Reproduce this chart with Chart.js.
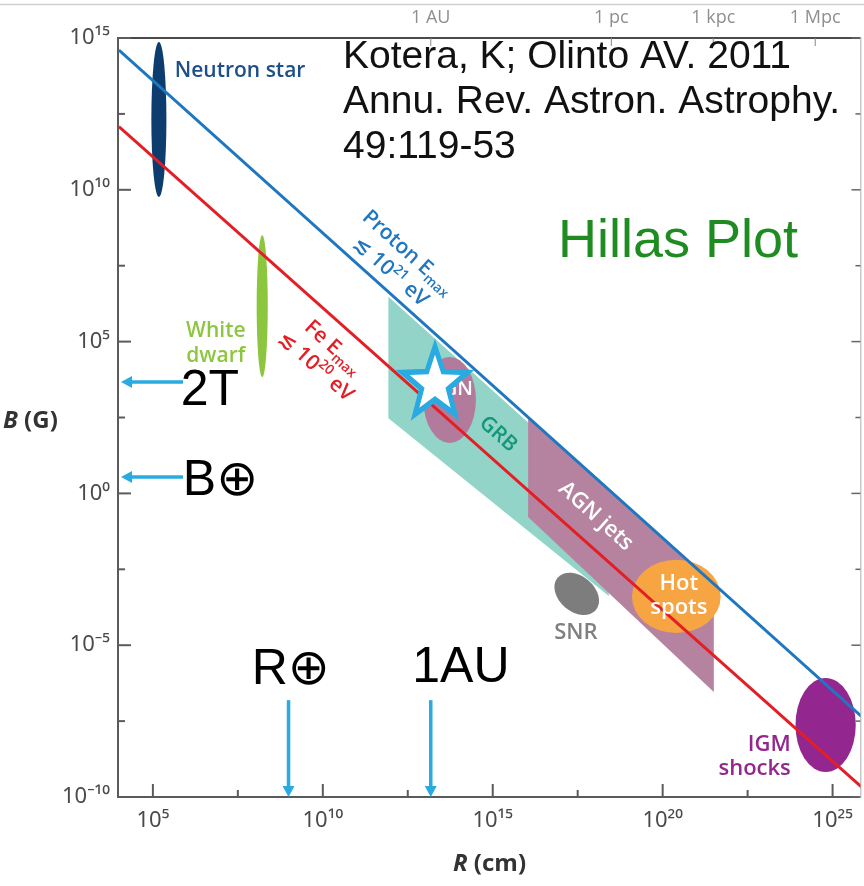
<!DOCTYPE html>
<html>
<head>
<meta charset="utf-8">
<script src="https://cdn.jsdelivr.net/npm/chart.js@4.4.1/dist/chart.umd.min.js"></script>
<style>
  html, body { margin: 0; padding: 0; background: #fff; overflow: hidden; }
  canvas { display: block; }
</style>
</head>
<body>
<canvas id="hillas" width="864" height="886"></canvas>
<script>
// axis ranges: R in cm, B in gauss
const xRange = [9.4e3, 6.6e25];
const yRange = [1e-10, 1e15];
const xTickValues = [1e5, 1e10, 1e15, 1e20, 1e25];
const xTickLabels = ['10⁵', '10¹⁰', '10¹⁵', '10²⁰', '10²⁵'];
const xMinorValues = [3.16e7, 3.16e12, 3.16e17, 3.16e22];
const yTickValues = [1e-10, 1e-5, 1, 1e5, 1e10, 1e15];
const yTickLabels = ['10⁻¹⁰', '10⁻⁵', '10⁰', '10⁵', '10¹⁰', '10¹⁵'];
const yMinorValues = [3.16e-8, 3.16e-3, 316, 3.16e7, 3.16e12];
const distanceValues = [1.5e13, 3.09e18, 3.09e21, 3.09e24];
const distanceLabels = ['1 AU', '1 pc', '1 kpc', '1 Mpc'];

// confinement limits B*R = const
const protonR = [1e4, 7.1e25];
const protonB = [4.0e14, 4.5e-8];
const ironR = [1e4, 7.6e25];
const ironB = [1.2e12, 2.0e-10];

// source classes as (R, B) boxes
const sourceNames = ['Neutron star', 'White dwarf', 'AGN', 'SNR', 'Hot spots', 'IGM shocks'];
const sourceRMin = [9.0e4, 1.13e8, 9.1e12, 6.5e16, 1.25e19, 8.1e23];
const sourceRMax = [2.5e5, 2.4e8, 3.2e14, 1.35e18, 5.1e21, 4.8e25];
const sourceBMin = [5.8e9, 6.8e3, 46, 1.0e-4, 2.5e-5, 6.6e-10];
const sourceBMax = [7.4e14, 3.2e8, 3.1e4, 2.4e-3, 6.5e-3, 8.3e-7];

// GRB and AGN jet bands (polygon corners)
const grbR = [8.5e11, 2.6e18, 2.6e18, 8.5e11];
const grbB = [3.0e6, 0.89, 4.2e-4, 300];
const jetR = [1.1e16, 3.2e21, 3.2e21, 1.1e16];
const jetB = [350, 1.0e-3, 2.9e-7, 0.166];

// reference marks
const starR = [2.0e13];
const starB = [4.0e3];
const fieldMarkLabels = ['2T', 'B⊕'];
const fieldMarkB = [4.7e3, 3.5];
const sizeMarkLabels = ['R⊕', '1AU'];
const sizeMarkR = [9.8e8, 1.5e13];

const sourceColors = {
  'Neutron star': '#0d3d6e',
  'White dwarf': '#8cc63f',
  'AGN': '#b27b9c',
  'SNR': '#7d7d7d',
  'Hot spots': '#f7a543',
  'IGM shocks': '#93278f'
};
const arrowColor = '#29abe2';

function X(chart, r) { return chart.scales.x.getPixelForValue(r); }
function Y(chart, b) { return chart.scales.y.getPixelForValue(b); }

// multi-line text with sub/superscript runs; mode 1 = sup, -1 = sub
function richText(ctx, lines, x, y, o) {
  const size = o.size, lh = o.lineHeight || size * 1.2;
  const fam = o.family || '"Open Sans", "DejaVu Sans", sans-serif';
  const font = (s) => `${o.style || ''} ${o.weight || 600} ${s}px ${fam}`;
  ctx.save();
  ctx.translate(x, y);
  ctx.rotate(o.angle || 0);
  ctx.fillStyle = o.color;
  ctx.textBaseline = 'alphabetic';
  ctx.textAlign = 'left';
  const total = lines.length * lh;
  lines.forEach((parts, li) => {
    let w = 0;
    parts.forEach(([t, m]) => { ctx.font = font(m ? size * 0.65 : size); w += ctx.measureText(t).width; });
    let cx = o.align === 'right' ? -w : o.align === 'left' ? 0 : -w / 2;
    const base = -total / 2 + (li + 0.5) * lh + size * 0.36;
    parts.forEach(([t, m]) => {
      const s = m ? size * 0.65 : size;
      ctx.font = font(s);
      const dy = m === 1 ? -size * 0.4 : m === -1 ? size * 0.22 : 0;
      ctx.fillText(t, cx, base + dy);
      cx += ctx.measureText(t).width;
    });
  });
  ctx.restore();
}

function polygon(chart, rs, bs, color) {
  const ctx = chart.ctx;
  ctx.save();
  ctx.fillStyle = color;
  ctx.beginPath();
  rs.forEach((r, i) => {
    const px = X(chart, r), py = Y(chart, bs[i]);
    if (i === 0) ctx.moveTo(px, py); else ctx.lineTo(px, py);
  });
  ctx.closePath();
  ctx.fill();
  ctx.restore();
}

function arrow(ctx, x0, y0, x1, y1) {
  const a = Math.atan2(y1 - y0, x1 - x0);
  const head = 11, half = 6;
  ctx.save();
  ctx.strokeStyle = arrowColor;
  ctx.fillStyle = arrowColor;
  ctx.lineWidth = 3.5;
  ctx.beginPath();
  ctx.moveTo(x0, y0);
  ctx.lineTo(x1 - Math.cos(a) * head, y1 - Math.sin(a) * head);
  ctx.stroke();
  ctx.beginPath();
  ctx.moveTo(x1, y1);
  ctx.lineTo(x1 - Math.cos(a) * head - Math.sin(a) * half, y1 - Math.sin(a) * head + Math.cos(a) * half);
  ctx.lineTo(x1 - Math.cos(a) * head + Math.sin(a) * half, y1 - Math.sin(a) * head - Math.cos(a) * half);
  ctx.closePath();
  ctx.fill();
  ctx.restore();
}

const hillasRegions = {
  id: 'hillasRegions',
  beforeDatasetsDraw(chart) {
    const ctx = chart.ctx, area = chart.chartArea;
    ctx.save();
    ctx.beginPath();
    ctx.rect(area.left, area.top, area.right - area.left, area.bottom - area.top);
    ctx.clip();
    polygon(chart, grbR, grbB, '#93d4c9');
    polygon(chart, jetR, jetB, '#b5839f');
    sourceNames.forEach((name, i) => {
      const x0 = X(chart, sourceRMin[i]), x1 = X(chart, sourceRMax[i]);
      const y0 = Y(chart, sourceBMax[i]), y1 = Y(chart, sourceBMin[i]);
      let rx = (x1 - x0) / 2, ry = (y1 - y0) / 2, tilt = 0;
      if (name === 'SNR') { rx *= 1.12; ry *= 0.85; tilt = 0.7; }
      ctx.fillStyle = sourceColors[name];
      ctx.beginPath();
      ctx.ellipse((x0 + x1) / 2, (y0 + y1) / 2, rx, ry, tilt, 0, Math.PI * 2);
      ctx.fill();
    });
    // AGN tag sits under the star
    richText(ctx, [[['AGN', 0]]], X(chart, 6.0e13), Y(chart, 2.9e3), { size: 20, color: '#ffffff' });
    ctx.restore();
  },
  afterDatasetsDraw(chart) {
    const ctx = chart.ctx, area = chart.chartArea;
    const sx = chart.scales.x, sy = chart.scales.y, sy2 = chart.scales.y2, sx2 = chart.scales.x2;

    // inward tick marks
    ctx.save();
    ctx.lineWidth = 2;
    ctx.strokeStyle = '#5b5b5b';
    [...yTickValues, ...yMinorValues].forEach((v) => {
      const y = sy.getPixelForValue(v), len = yTickValues.includes(v) ? 13 : 7;
      ctx.beginPath(); ctx.moveTo(area.left, y); ctx.lineTo(area.left + len, y); ctx.stroke();
    });
    [...xTickValues, ...xMinorValues].forEach((v) => {
      const x = sx.getPixelForValue(v), len = xTickValues.includes(v) ? 13 : 7;
      ctx.beginPath(); ctx.moveTo(x, area.bottom); ctx.lineTo(x, area.bottom - len); ctx.stroke();
    });
    ctx.lineWidth = 1.5;
    ctx.strokeStyle = '#666';
    [...yTickValues, ...yMinorValues].forEach((v) => {
      const y = sy2.getPixelForValue(v), len = yTickValues.includes(v) ? 9 : 5;
      ctx.beginPath(); ctx.moveTo(area.right, y); ctx.lineTo(area.right - len, y); ctx.stroke();
    });
    ctx.lineWidth = 1;
    ctx.strokeStyle = '#888';
    distanceValues.forEach((v) => {
      const x = sx2.getPixelForValue(v);
      ctx.beginPath(); ctx.moveTo(x, area.top); ctx.lineTo(x, area.top + 8); ctx.stroke();
    });
    // thin frame line above the distance scale
    ctx.strokeStyle = '#cfcfcf';
    ctx.lineWidth = 1.5;
    ctx.beginPath(); ctx.moveTo(0, 4.5); ctx.lineTo(chart.width, 4.5); ctx.stroke();
    ctx.restore();

    // star marker
    const cx = X(chart, starR[0]), cy = Y(chart, starB[0]);
    ctx.save();
    ctx.translate(cx, cy);
    ctx.scale(1, 1.1);
    ctx.beginPath();
    for (let k = 0; k < 10; k++) {
      const rad = k % 2 ? 14 : 34;
      const a = -Math.PI / 2 + k * Math.PI / 5;
      ctx.lineTo(Math.cos(a) * rad, Math.sin(a) * rad);
    }
    ctx.closePath();
    ctx.fillStyle = '#ffffff';
    ctx.fill();
    ctx.lineWidth = 5;
    ctx.strokeStyle = arrowColor;
    ctx.lineJoin = 'miter';
    ctx.stroke();
    ctx.restore();

    // labels along the limit lines
    const ang = Math.atan2(Y(chart, protonB[1]) - Y(chart, protonB[0]), X(chart, protonR[1]) - X(chart, protonR[0]));
    richText(ctx, [[['Proton E', 0], ['max', -1]], [['≲ 10', 0], ['21', 1], [' eV', 0]]],
      X(chart, 1.9e12), Y(chart, 4.5e7), { size: 21, color: '#1f77c0', angle: ang, lineHeight: 26 });
    richText(ctx, [[['Fe E', 0], ['max', -1]], [['≲ 10', 0], ['20', 1], [' eV', 0]]],
      X(chart, 1.2e10), Y(chart, 3.4e4), { size: 21, color: '#e31e24', angle: ang, lineHeight: 26 });
    richText(ctx, [[['GRB', 0]]], X(chart, 1.55e15), Y(chart, 98), { size: 21, color: '#14977a', angle: ang });
    richText(ctx, [[['AGN jets', 0]]], X(chart, 1.17e18), Y(chart, 0.195), { size: 22, color: '#ffffff', angle: ang });

    // source labels
    richText(ctx, [[['Neutron star', 0]]], X(chart, 4.4e5), Y(chart, 8.9e13), { size: 21, color: '#1d4f88', align: 'left' });
    richText(ctx, [[['White', 0]], [['dwarf', 0]]], X(chart, 7.1e6), Y(chart, 9.8e4), { size: 21, color: '#8dc63f', lineHeight: 25 });
    richText(ctx, [[['Hot', 0]], [['spots', 0]]], X(chart, 3.0e20), Y(chart, 4.9e-4), { size: 22, color: '#ffffff', lineHeight: 24 });
    richText(ctx, [[['SNR', 0]]], X(chart, 2.8e17), Y(chart, 2.9e-5), { size: 22, color: '#808080' });
    richText(ctx, [[['IGM', 0]], [['shocks', 0]]], X(chart, 5.9e23), Y(chart, 2.4e-9), { size: 22, color: '#92278f', align: 'right', lineHeight: 24 });

    // reference arrows
    const big = { size: 50, color: '#000000', weight: 400, family: '"Liberation Sans", Arial, "DejaVu Sans", sans-serif', align: 'left' };
    fieldMarkB.forEach((b) => {
      const y = Y(chart, b);
      arrow(ctx, area.left + 65, y, area.left + 3, y);
    });
    richText(ctx, [[[fieldMarkLabels[0], 0]]], X(chart, 6.6e5), Y(chart, 3.2e3), big);
    richText(ctx, [[[fieldMarkLabels[1], 0]]], X(chart, 7.6e5), Y(chart, 3.5), big);
    sizeMarkR.forEach((r) => {
      const x = X(chart, r);
      arrow(ctx, x, Y(chart, 1.55e-7), x, area.bottom);
    });
    richText(ctx, [[[sizeMarkLabels[0], 0]]], X(chart, 8.1e7), Y(chart, 2.0e-6), big);
    richText(ctx, [[[sizeMarkLabels[1], 0]]], X(chart, 4.3e12), Y(chart, 2.4e-6), big);

    // axis titles
    ctx.save();
    ctx.fillStyle = '#333';
    ctx.textBaseline = 'middle';
    ctx.font = 'italic 700 24px "Open Sans", sans-serif';
    ctx.fillText('B', 3, 421);
    let w = ctx.measureText('B').width;
    ctx.font = '700 24px "Open Sans", sans-serif';
    ctx.fillText(' (G)', 3 + w, 421);
    ctx.font = 'italic 700 24px "Open Sans", sans-serif';
    w = ctx.measureText('R').width;
    ctx.fillText('R', 453, 864);
    ctx.font = '700 24px "Open Sans", sans-serif';
    ctx.fillText(' (cm)', 453 + w, 864);

    // citation and title
    ctx.textBaseline = 'alphabetic';
    ctx.fillStyle = '#111';
    ctx.font = '39px "Liberation Sans", Arial, sans-serif';
    ctx.fillText('Kotera, K; Olinto AV. 2011', 343, 68);
    ctx.fillText('Annu. Rev. Astron. Astrophy.', 343, 113);
    ctx.fillText('49:119-53', 343, 158);
    ctx.fillStyle = '#1f8c22';
    ctx.font = '54px "Liberation Sans", Arial, sans-serif';
    ctx.fillText('Hillas Plot', 558, 257);
    ctx.restore();
  }
};

const tickFont = { family: '"Noto Sans", "DejaVu Sans", sans-serif', size: 22 };

new Chart(document.getElementById('hillas'), {
  type: 'scatter',
  data: {
    datasets: [
      {
        label: 'Proton',
        data: protonR.map((r, i) => ({ x: r, y: protonB[i] })),
        showLine: true, borderColor: '#1f77c0', borderWidth: 3, pointRadius: 0, fill: false
      },
      {
        label: 'Fe',
        data: ironR.map((r, i) => ({ x: r, y: ironB[i] })),
        showLine: true, borderColor: '#e31e24', borderWidth: 3, pointRadius: 0, fill: false
      }
    ]
  },
  options: {
    responsive: false,
    devicePixelRatio: 1,
    animation: false,
    layout: { padding: 0 },
    plugins: { legend: { display: false }, tooltip: { enabled: false } },
    scales: {
      x: {
        type: 'logarithmic', position: 'bottom', min: xRange[0], max: xRange[1],
        afterBuildTicks: (s) => { s.ticks = xTickValues.map((v) => ({ value: v })); },
        afterFit: (s) => { s.height = 89; },
        grid: { display: false, drawTicks: false },
        border: { display: true, color: '#5b5b5b', width: 2 },
        ticks: {
          autoSkip: false, maxRotation: 0, padding: 11, color: '#4a4a4a', font: tickFont,
          callback: (v) => { const i = xTickValues.indexOf(v); return i < 0 ? '' : xTickLabels[i]; }
        }
      },
      x2: {
        type: 'logarithmic', position: 'top', min: xRange[0], max: xRange[1],
        afterBuildTicks: (s) => { s.ticks = distanceValues.map((v) => ({ value: v })); },
        afterFit: (s) => { s.height = 38; },
        grid: { display: false, drawTicks: false },
        border: { display: true, color: '#4a4a4a', width: 2 },
        ticks: {
          autoSkip: false, maxRotation: 0, padding: 9, color: '#8f8f8f',
          font: { family: '"Open Sans", sans-serif', size: 18 },
          callback: (v) => { const i = distanceValues.indexOf(v); return i < 0 ? '' : distanceLabels[i]; }
        }
      },
      y: {
        type: 'logarithmic', position: 'left', min: yRange[0], max: yRange[1],
        afterBuildTicks: (s) => { s.ticks = yTickValues.map((v) => ({ value: v })); },
        afterFit: (s) => { s.width = 118; },
        grid: { display: false, drawTicks: false },
        border: { display: true, color: '#5b5b5b', width: 2 },
        ticks: {
          autoSkip: false, padding: 8, color: '#4a4a4a', font: tickFont,
          callback: (v) => { const i = yTickValues.indexOf(v); return i < 0 ? '' : yTickLabels[i]; }
        }
      },
      y2: {
        type: 'logarithmic', position: 'right', min: yRange[0], max: yRange[1],
        afterBuildTicks: (s) => { s.ticks = yTickValues.map((v) => ({ value: v })); },
        afterFit: (s) => { s.width = 2; },
        grid: { display: false, drawTicks: false },
        border: { display: true, color: '#c8c8c8', width: 1.5 },
        ticks: { display: false }
      }
    }
  },
  plugins: [hillasRegions]
});
</script>
</body>
</html>
